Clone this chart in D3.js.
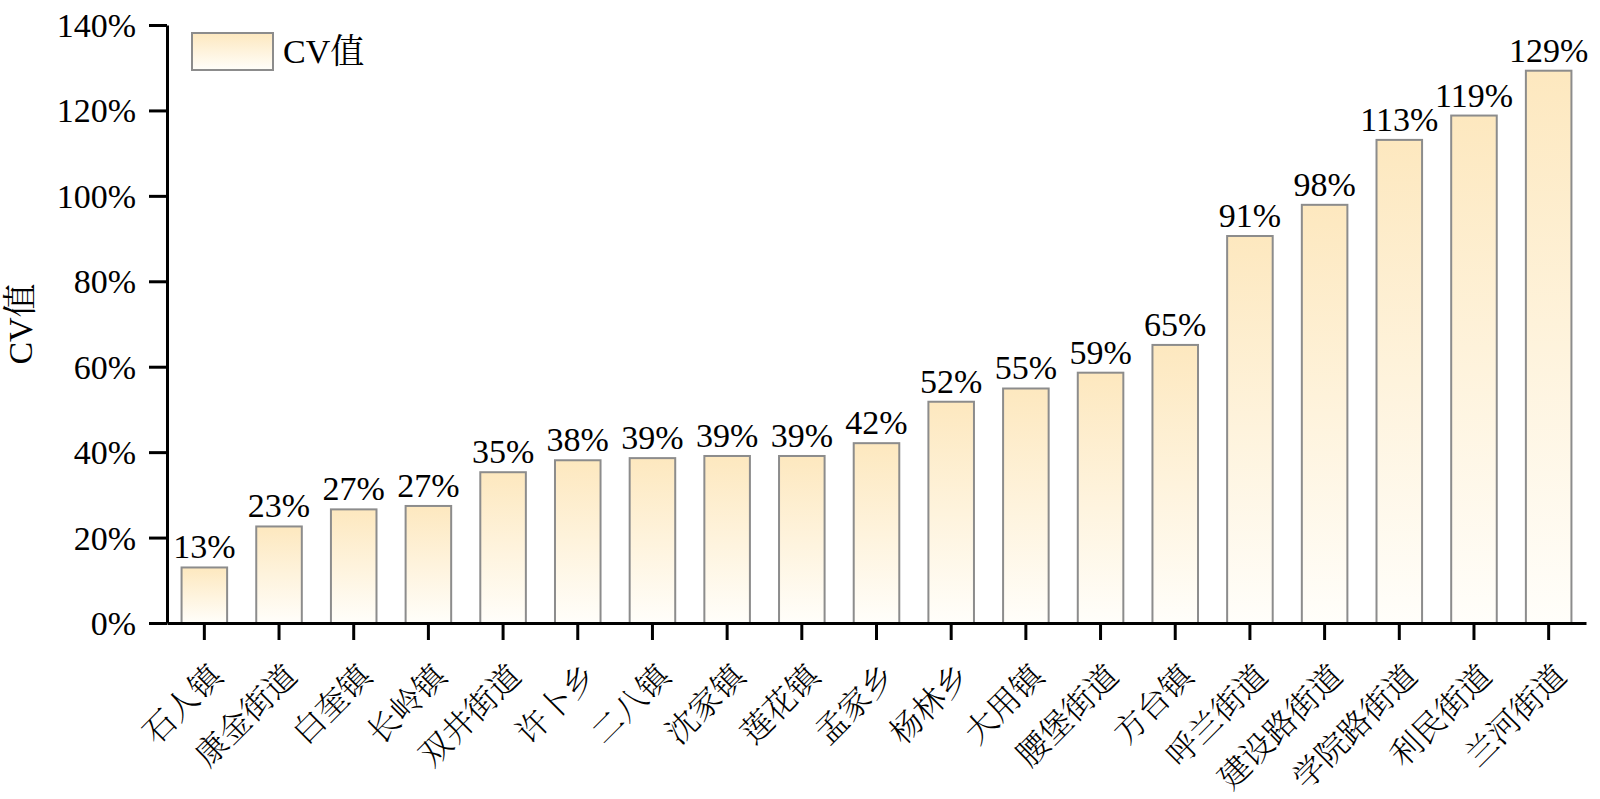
<!DOCTYPE html>
<html>
<head>
<meta charset="utf-8">
<script src="https://cdn.jsdelivr.net/npm/d3@7"></script>
<style>
html,body{margin:0;padding:0;background:#fff;}
svg{display:block;}
text{fill:#000;}
</style>
</head>
<body>
<svg id="chart" width="1600" height="799"></svg>
<script>
const categories = ["石人镇","康金街道","白奎镇","长岭镇","双井街道","许卜乡","二八镇","沈家镇","莲花镇","孟家乡","杨林乡","大用镇","腰堡街道","方台镇","呼兰街道","建设路街道","学院路街道","利民街道","兰河街道"];
const cvValues = [13.0, 22.6, 26.6, 27.4, 35.3, 38.1, 38.6, 39.1, 39.1, 42.1, 51.8, 54.9, 58.6, 65.1, 90.6, 97.9, 113.1, 118.8, 129.3];
const valueLabels = ["13%","23%","27%","27%","35%","38%","39%","39%","39%","42%","52%","55%","59%","65%","91%","98%","113%","119%","129%"];
const yTicks = [0, 20, 40, 60, 80, 100, 120, 140];
const seriesName = "CV值";
const yTitle = "CV值";

const svg = d3.select("#chart");
const mLeft = 167, mRight = 1586, mTop = 25, mBottom = 623;
const serif = '"Liberation Serif", "Times New Roman", Times, Tinos, "Nimbus Roman", "Nimbus Roman No9 L", FreeSerif, "Noto Serif", "DejaVu Serif", "Noto Serif CJK SC", "Noto Sans CJK SC", serif';
const cjk = '"Noto Serif CJK SC", "Noto Sans CJK SC", sans-serif';

const defs = svg.append("defs");
const grad = defs.append("linearGradient").attr("id","barGrad")
  .attr("x1","0").attr("y1","0").attr("x2","0").attr("y2","1");
grad.append("stop").attr("offset","0%").attr("stop-color","#fde8bf");
grad.append("stop").attr("offset","100%").attr("stop-color","#fffefa");

const x = d3.scaleBand().domain(categories).range([mLeft, mRight]).paddingInner(0.39).paddingOuter(0.195);
const y = d3.scaleLinear().domain([0, 140]).range([mBottom, mTop]);

// bars
svg.append("g").selectAll("rect").data(categories).join("rect")
  .attr("x", d => x(d))
  .attr("y", (d,i) => y(cvValues[i]))
  .attr("width", x.bandwidth())
  .attr("height", (d,i) => y(0) - y(cvValues[i]))
  .attr("fill", "url(#barGrad)")
  .attr("stroke", "#8c8c8c")
  .attr("stroke-width", 2);

// value labels
svg.append("g").selectAll("text").data(categories).join("text")
  .attr("x", d => x(d) + x.bandwidth()/2)
  .attr("y", (d,i) => y(cvValues[i]) - 9)
  .attr("text-anchor","middle")
  .style("font-size","34px")
  .style("font-family", serif)
  .text((d,i) => valueLabels[i]);

// y axis
const yAxis = svg.append("g").attr("transform", `translate(${mLeft},0)`)
  .call(d3.axisLeft(y).tickValues(yTicks).tickFormat(d => d + "%").tickSize(18).tickPadding(13).tickSizeOuter(0));
yAxis.select(".domain").attr("stroke","#000").attr("stroke-width",3);
yAxis.selectAll(".tick line").attr("stroke","#000").attr("stroke-width",3);
yAxis.selectAll(".tick text").style("font-size","34px").style("font-family", serif).attr("dy","0.34em");

// x axis
const xAxis = svg.append("g").attr("transform", `translate(0,${mBottom})`)
  .call(d3.axisBottom(x).tickSize(17).tickSizeOuter(0).tickFormat(""));
xAxis.select(".domain").attr("stroke","#000").attr("stroke-width",3);
xAxis.selectAll(".tick line").attr("stroke","#000").attr("stroke-width",3);

// x category labels rotated
svg.append("g").selectAll("text").data(categories).join("text")
  .attr("transform", d => `translate(${x(d) + x.bandwidth()/2 + 20},${mBottom + 55}) rotate(-45)`)
  .attr("text-anchor","end")
  .style("font-size","32px")
  .style("font-family", cjk)
  .style("font-weight","300")
  .text(d => d);

// y title
svg.append("text")
  .attr("transform", `translate(32,${(mTop+mBottom)/2}) rotate(-90)`)
  .attr("text-anchor","middle")
  .style("font-size","34px")
  .style("font-family", serif)
  .text(yTitle);

// legend
svg.append("rect").attr("x",192).attr("y",33).attr("width",81).attr("height",37)
  .attr("fill","url(#barGrad)").attr("stroke","#8c8c8c").attr("stroke-width",2);
svg.append("text").attr("x",283).attr("y",63).style("font-size","34px").style("font-family", serif).text(seriesName);
</script>
</body>
</html>
